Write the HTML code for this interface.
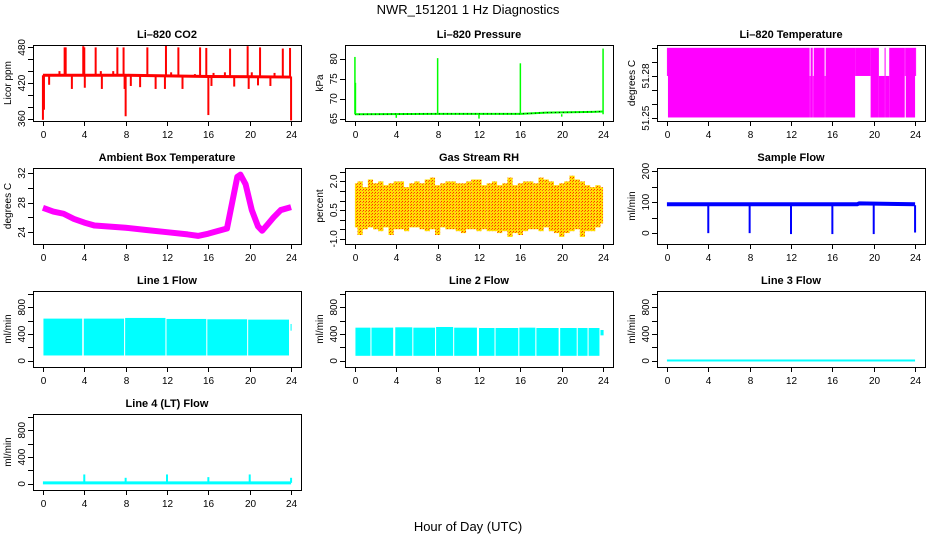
<!DOCTYPE html>
<html><head><meta charset="utf-8"><style>
body{margin:0;background:#fff}
svg{display:block;font-family:"Liberation Sans",sans-serif}
</style></head><body>
<svg id="c" width="936" height="540" viewBox="0 0 936 540">
<defs>
<pattern id="rhpat" width="3" height="3" patternUnits="userSpaceOnUse">
<rect width="3" height="3" fill="#ffdd00"/><rect width="1" height="1" fill="#ff3000"/><rect x="2" y="1" width="1" height="1" fill="#ff6000"/>
</pattern>
</defs>
<text x="468" y="14" text-anchor="middle" font-size="13">NWR_151201 1 Hz Diagnostics</text>
<text x="468" y="531" text-anchor="middle" font-size="13">Hour of Day (UTC)</text>
</svg>
<script>
// ---- data ----
const xTicks=[0,4,8,12,16,20,24];
const co2BaseHours=[0,8,16,24];
const co2Base=[433,433,431,430];
const co2SpikeHours=[2.1,2.2,3.9,4.0,5.1,7.2,7.8,10.1,11.9,13.1,15.2,15.8,18.1,19.8,21.0,23.2,23.9,1.6,5.6,6.8,12.4,14.7,16.5,17.6,20.2,22.4,0,0.1,8.0,16.0,24.0,0.6,2.8,4.05,5.7,7.9,8.5,9.4,10.9,11.8,13.5,16.3,18.5,19.9,20.8,22.0];
const co2SpikeVals=[480,480,482,480,480,480,480,480,483,480,480,479,478,482,480,478,479,440,440,440,438,435,437,438,438,437,358,375,364,366,357,417,410,412,410,410,415,413,410,410,410,415,414,410,416,415];
const presHours=[0,8,16,18.5,23,24];
const presBase=[66.1,66.2,66.2,66.5,66.7,66.8];
const presSpikeHours=[0,0.05,8,16,24,4,12,20];
const presSpikeVals=[80.5,74,80.2,78.9,82.6,65.2,65,65.5];
const tSegStart=[0,0.1,13.8,13.9,14.1,14.2,15.25,15.35,18.2,19.7,20.5,21.05,21.15,21.5,23.0,23.1,24.0];
const tSegEnd=[0.1,13.8,13.9,14.1,14.2,15.25,15.35,18.2,19.7,20.5,21.05,21.15,21.5,23.0,23.1,24.0,24.1];
const tSegLo=[51.28,51.2505,51.2505,51.2505,51.2505,51.2505,51.2505,51.2505,51.28,51.2505,51.2505,51.2505,51.2505,51.2505,51.28,51.2505,51.28];
const tSegHi=[51.30,51.30,51.28,51.30,51.28,51.30,51.28,51.30,51.30,51.30,51.28,51.30,51.28,51.30,51.30,51.30,51.30];
const ambHours=[0,1,2,3,4,5,6,8,10,12,14,15,16,17,17.8,18.3,18.8,19.1,19.6,20.2,20.8,21.2,21.7,22.3,23,24];
const ambVals=[27.3,26.8,26.5,25.8,25.3,24.9,24.8,24.6,24.3,24.0,23.7,23.5,23.8,24.2,24.5,28,31.5,31.8,30.5,27,24.8,24.2,25,26,27,27.4];
const rhHi=[1.9,2.0,1.7,2.1,1.9,2.0,1.8,1.9,2.0,2.0,1.7,1.9,2.0,1.9,2.1,2.2,1.8,1.9,2.0,2.0,1.9,1.9,2.0,2.1,2.1,1.8,1.9,2.0,1.8,1.9,2.2,1.8,1.9,2.0,2.0,1.9,2.2,2.1,2.0,1.8,1.9,2.0,2.3,2.1,2.0,1.8,1.7,1.8,1.7];
const rhLo=[-0.4,-0.8,-0.5,-0.4,-0.5,-0.6,-0.4,-0.8,-0.5,-0.5,-0.6,-0.4,-0.4,-0.5,-0.6,-0.5,-0.8,-0.4,-0.5,-0.5,-0.6,-0.7,-0.5,-0.5,-0.6,-0.5,-0.6,-0.6,-0.7,-0.6,-0.9,-0.7,-0.8,-0.6,-0.5,-0.5,-0.6,-0.4,-0.6,-0.7,-0.9,-0.7,-0.6,-0.5,-0.9,-0.6,-0.6,-0.4,-0.2];
const sfHours=[0,18.4,18.6,24];
const sfVals=[93,93,96,93];
const sfDipHours=[4,8,12,16,20,24];
const sfDipVals=[0,0,-3,-3,-3,2];
const l1SegStart=[0.05,3.95,7.95,11.95,15.9,19.85,23.95];
const l1SegEnd=[3.8,7.85,11.85,15.8,19.75,23.8,24.05];
const l1SegLo=[80,80,80,80,80,80,450];
const l1SegHi=[630,630,640,625,620,615,550];
const l2SegStart=[0.05,1.6,3.9,5.65,7.85,9.6,12.0,13.6,15.9,17.55,19.85,21.55,22.6,23.75];
const l2SegEnd=[1.5,3.7,5.55,7.75,9.5,11.8,13.5,15.8,17.45,19.7,21.45,22.5,23.65,24.05];
const l2SegLo=[75,75,75,75,75,75,75,75,75,75,75,75,75,380];
const l2SegHi=[495,495,500,495,505,495,490,490,495,490,490,490,490,460];
const l3Hours=[0,24];
const l3Vals=[5,5];
const l4Hours=[0,24];
const l4Vals=[15,15];
const l4SpikeHours=[4,8,12,16,20,24];
const l4SpikeVals=[140,90,140,100,140,90];

// ---- layout ----
const svg=document.getElementById('c');
const NS='http://www.w3.org/2000/svg';
const colX=[33,345,657], rowY=[45,168,291,414], W=268, H=76;
function mk(tag,attrs,parent){const e=document.createElementNS(NS,tag);for(const k in attrs)e.setAttribute(k,attrs[k]);(parent||svg).appendChild(e);return e;}

function panel(col,row,name,title,ylab,yMin,yMax,yTicks,yLabels){
  const g=mk('g',{});
  
  
  const x0=colX[col], y0=rowY[row];
  const xs=h=>x0+W*(h+0.96)/25.92;
  const ys=v=>y0+H*(yMax-v)/(yMax-yMin);
  const t=mk('text',{x:x0+W/2,y:y0-7,'text-anchor':'middle','font-size':11,'font-weight':'bold'},g);
  t.textContent=title;
  
  
  const yl=mk('text',{transform:`translate(${x0-22},${y0+H/2}) rotate(-90)`,'text-anchor':'middle','font-size':10},g);
  yl.textContent=ylab;
  
  
  xTicks.forEach(h=>{
    const x=Math.round(xs(h))+0.5;
    mk('line',{x1:x,x2:x,y1:y0+H+1,y2:y0+H+5,stroke:'#000'},g);
    const tl=mk('text',{x:x,y:y0+H+17,'text-anchor':'middle','font-size':10},g);
    tl.textContent=h;
    
    
  });
  yTicks.forEach(v=>{
    const y=Math.round(ys(v))+0.5;
    mk('line',{x1:x0-5,x2:x0,y1:y,y2:y,stroke:'#000'},g);
  });
  yLabels.forEach(v=>{
    const y=ys(v);
    const tl=mk('text',{transform:`translate(${x0-8},${y}) rotate(-90)`,'text-anchor':'middle','font-size':10},g);
    tl.textContent=(typeof v==='number'&&yMax<5&&yMax>2)?v.toFixed(1):v;
    
    
  });
  const plot=mk('g',{},g);
  mk('rect',{x:x0+0.5,y:y0+0.5,width:W,height:H,fill:'none',stroke:'#000'},g);
  return {g:plot,xs,ys,x0,y0};
}
function vline(p,h,a,b,color,w){return mk('line',{x1:p.xs(h),x2:p.xs(h),y1:p.ys(a),y2:p.ys(b),stroke:color,'stroke-width':w||2},p.g);}
function poly(p,hs,vs,color,w){return mk('polyline',{points:hs.map((h,i)=>p.xs(h)+','+p.ys(vs[i])).join(' '),fill:'none',stroke:color,'stroke-width':w,'stroke-linejoin':'round'},p.g);}
function segs(p,st,en,lo,hi,fill){st.forEach((s,i)=>{mk('rect',{x:p.xs(s),y:p.ys(hi[i]),width:Math.max(1,p.xs(en[i])-p.xs(s)),height:p.ys(lo[i])-p.ys(hi[i]),fill:fill},p.g);});}

// CO2
let p=panel(0,0,'co2-panel','Li\u2013820 CO2','Licor ppm',356,484,[360,380,400,420,440,460,480],[360,420,480]);
poly(p,co2BaseHours,co2Base,'#ff0000',3);
co2SpikeHours.forEach((h,i)=>{const base=co2Base[0]-(h>16?2:0);const l=vline(p,h,base,co2SpikeVals[i],'#ff0000',2);});
// Pressure
p=panel(1,0,'pressure-panel','Li\u2013820 Pressure','kPa',64.4,83.5,[65,70,75,80],[65,70,75,80]);
poly(p,presHours,presBase,'#00ff00',2);
poly(p,presHours,presBase,'#000',1).setAttribute('stroke-dasharray','1 3');
presSpikeHours.forEach((h,i)=>{const l=vline(p,h,presBase[0],presSpikeVals[i],'#00ff00',1.5);});
// Temperature
p=panel(2,0,'temperature-panel','Li\u2013820 Temperature','degrees C',51.248,51.302,[51.25,51.26,51.27,51.28,51.29,51.30],['51.25','51.28']);
p.ys=(v=>rowY[0]+H*(51.302-v)/(51.302-51.248));
segs(p,tSegStart,tSegEnd,tSegLo,tSegHi,'#ff00ff');
// Ambient
p=panel(0,1,'ambient-temp-panel','Ambient Box Temperature','degrees C',22.4,32.7,[24,26,28,30,32],[24,28,32]);
poly(p,ambHours,ambVals,'#ff00ff',6);
// RH
p=panel(1,1,'gas-rh-panel','Gas Stream RH','percent',-1.27,2.7,[-1,-0.5,0,0.5,1,1.5,2,2.5],[-1.0,0.5,2.0]);
rhHi.forEach((hv,i)=>{const h=i*0.5;const r=mk('rect',{x:p.xs(Math.max(0,h-0.25)),y:p.ys(hv),width:p.xs(Math.min(24,h+0.25))-p.xs(Math.max(0,h-0.25)),height:p.ys(rhLo[i])-p.ys(hv),fill:'url(#rhpat)'},p.g);});
// Sample flow
p=panel(2,1,'sample-flow-panel','Sample Flow','ml/min',-35,210,[0,50,100,150,200],[0,100,200]);
poly(p,sfHours,sfVals,'#0000ff',4);
sfDipHours.forEach((h,i)=>{const l=vline(p,h,90,sfDipVals[i],'#0000ff',2);});
// Line flows
const fT=[0,200,400,600,800,1000], fL=[0,400,800];
p=panel(0,2,'line1-flow-panel','Line 1 Flow','ml/min',-92,1042,fT,fL);
segs(p,l1SegStart,l1SegEnd,l1SegLo,l1SegHi,'#00ffff');
p=panel(1,2,'line2-flow-panel','Line 2 Flow','ml/min',-92,1042,fT,fL);
segs(p,l2SegStart,l2SegEnd,l2SegLo,l2SegHi,'#00ffff');
p=panel(2,2,'line3-flow-panel','Line 3 Flow','ml/min',-92,1042,fT,fL);
poly(p,l3Hours,l3Vals,'#00ffff',2);
p=panel(0,3,'line4-flow-panel','Line 4 (LT) Flow','ml/min',-92,1042,fT,fL);
poly(p,l4Hours,l4Vals,'#00ffff',3);
l4SpikeHours.forEach((h,i)=>{const l=vline(p,h,15,l4SpikeVals[i],'#00ffff',2);});
</script>
</body></html>
